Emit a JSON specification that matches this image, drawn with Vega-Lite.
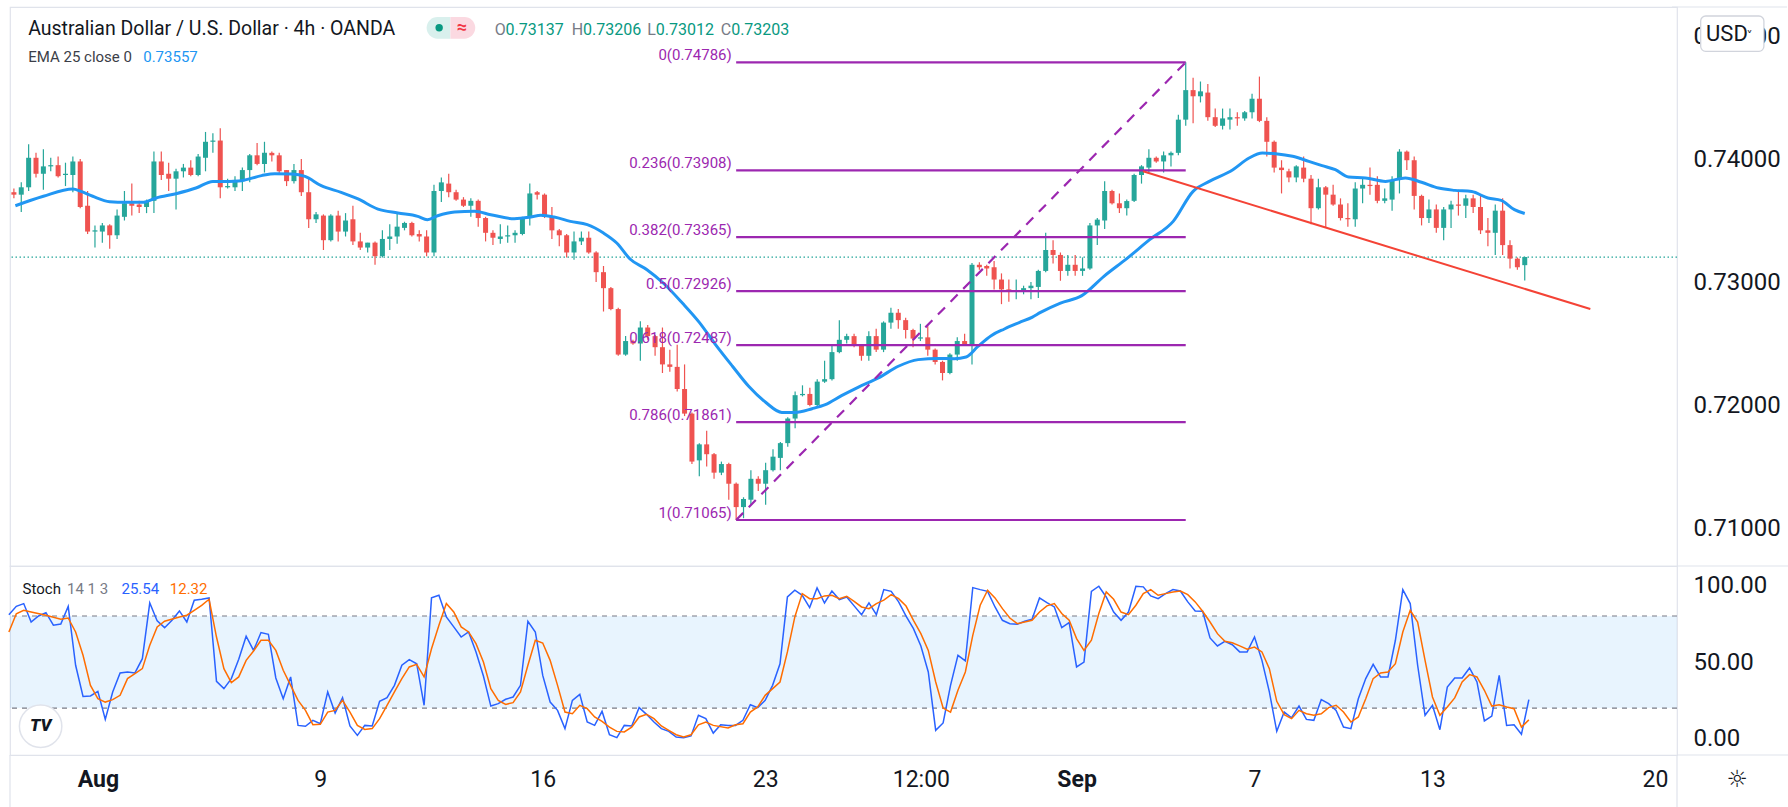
{
  "$schema": "https://vega.github.io/schema/vega-lite/v6.json",
  "description": "AUD/USD 4h candles with EMA 25, Fibonacci retracement and Stochastic 14 1 3",
  "background": "white",
  "padding": {"left": 5, "top": 5, "right": 0, "bottom": 0},
  "spacing": 0,
  "bounds": "flush",
  "config": {"view": {"stroke": "#e0e3eb", "strokeWidth": 1.2}, "font": "Roboto"},
  "resolve": {"scale": {"x": "independent", "y": "independent"}},
  "datasets": {
    "candles": [
      {"k":-1,"o":0.7373,"h":0.7376,"l":0.7368,"c":0.7371},
      {"k":0,"o":0.7371,"h":0.7381,"l":0.7357,"c":0.7377},
      {"k":1,"o":0.7377,"h":0.7412,"l":0.7374,"c":0.7401},
      {"k":2,"o":0.7401,"h":0.7405,"l":0.7385,"c":0.7388},
      {"k":3,"o":0.7388,"h":0.7408,"l":0.7375,"c":0.7394},
      {"k":4,"o":0.7394,"h":0.7401,"l":0.739,"c":0.7395},
      {"k":5,"o":0.7395,"h":0.7402,"l":0.7385,"c":0.7386},
      {"k":6,"o":0.7387,"h":0.7397,"l":0.7378,"c":0.7388},
      {"k":7,"o":0.7387,"h":0.7402,"l":0.7373,"c":0.7398},
      {"k":8,"o":0.7398,"h":0.74,"l":0.736,"c":0.7361},
      {"k":9,"o":0.7362,"h":0.7374,"l":0.7339,"c":0.7341},
      {"k":10,"o":0.7341,"h":0.7346,"l":0.7328,"c":0.7342},
      {"k":11,"o":0.7341,"h":0.7348,"l":0.7332,"c":0.7346},
      {"k":12,"o":0.7346,"h":0.7347,"l":0.7327,"c":0.7338},
      {"k":13,"o":0.7338,"h":0.7359,"l":0.7335,"c":0.7354},
      {"k":14,"o":0.7353,"h":0.7374,"l":0.735,"c":0.7364},
      {"k":15,"o":0.7364,"h":0.738,"l":0.7354,"c":0.7362},
      {"k":16,"o":0.7363,"h":0.7366,"l":0.7356,"c":0.7361},
      {"k":17,"o":0.7361,"h":0.7367,"l":0.7356,"c":0.7366},
      {"k":18,"o":0.7366,"h":0.7406,"l":0.7356,"c":0.7398},
      {"k":19,"o":0.7398,"h":0.7406,"l":0.7383,"c":0.7387},
      {"k":20,"o":0.7388,"h":0.7397,"l":0.7374,"c":0.7384},
      {"k":21,"o":0.7384,"h":0.7392,"l":0.7359,"c":0.739},
      {"k":22,"o":0.739,"h":0.7396,"l":0.7385,"c":0.7393},
      {"k":23,"o":0.7393,"h":0.7399,"l":0.7386,"c":0.7387},
      {"k":24,"o":0.7387,"h":0.7404,"l":0.7386,"c":0.7402},
      {"k":25,"o":0.7401,"h":0.7422,"l":0.739,"c":0.7414},
      {"k":26,"o":0.7414,"h":0.7421,"l":0.7405,"c":0.7415},
      {"k":27,"o":0.7415,"h":0.7425,"l":0.7368,"c":0.7377},
      {"k":28,"o":0.7377,"h":0.7384,"l":0.7376,"c":0.7378},
      {"k":29,"o":0.7377,"h":0.7386,"l":0.7374,"c":0.7383},
      {"k":30,"o":0.7382,"h":0.7393,"l":0.7374,"c":0.7391},
      {"k":31,"o":0.7391,"h":0.7404,"l":0.7381,"c":0.7403},
      {"k":32,"o":0.7403,"h":0.7413,"l":0.7395,"c":0.7396},
      {"k":33,"o":0.7396,"h":0.7414,"l":0.7389,"c":0.7405},
      {"k":34,"o":0.7405,"h":0.7406,"l":0.7398,"c":0.7403},
      {"k":35,"o":0.7403,"h":0.7405,"l":0.7388,"c":0.739},
      {"k":36,"o":0.7391,"h":0.7391,"l":0.7378,"c":0.7382},
      {"k":37,"o":0.7382,"h":0.7396,"l":0.738,"c":0.7391},
      {"k":38,"o":0.7391,"h":0.74,"l":0.737,"c":0.7373},
      {"k":39,"o":0.7373,"h":0.7385,"l":0.7344,"c":0.7351},
      {"k":40,"o":0.7351,"h":0.7357,"l":0.7348,"c":0.7355},
      {"k":41,"o":0.7354,"h":0.7355,"l":0.7326,"c":0.7334},
      {"k":42,"o":0.7334,"h":0.7355,"l":0.7333,"c":0.7354},
      {"k":43,"o":0.7354,"h":0.7358,"l":0.7333,"c":0.7341},
      {"k":44,"o":0.7341,"h":0.7356,"l":0.7337,"c":0.735},
      {"k":45,"o":0.7351,"h":0.7362,"l":0.733,"c":0.7333},
      {"k":46,"o":0.7333,"h":0.734,"l":0.7326,"c":0.7328},
      {"k":47,"o":0.7328,"h":0.7332,"l":0.7324,"c":0.7332},
      {"k":48,"o":0.7332,"h":0.7333,"l":0.7314,"c":0.7321},
      {"k":49,"o":0.7321,"h":0.7342,"l":0.732,"c":0.7335},
      {"k":50,"o":0.7335,"h":0.7347,"l":0.7326,"c":0.7337},
      {"k":51,"o":0.7337,"h":0.7356,"l":0.7331,"c":0.7345},
      {"k":52,"o":0.7344,"h":0.7349,"l":0.7342,"c":0.7348},
      {"k":53,"o":0.7348,"h":0.7349,"l":0.7337,"c":0.7338},
      {"k":54,"o":0.7339,"h":0.7342,"l":0.7333,"c":0.7337},
      {"k":55,"o":0.7337,"h":0.7342,"l":0.7321,"c":0.7324},
      {"k":56,"o":0.7324,"h":0.7379,"l":0.7321,"c":0.7374},
      {"k":57,"o":0.7374,"h":0.7385,"l":0.7365,"c":0.7381},
      {"k":58,"o":0.738,"h":0.7388,"l":0.7369,"c":0.7373},
      {"k":59,"o":0.7373,"h":0.7375,"l":0.7366,"c":0.7367},
      {"k":60,"o":0.7367,"h":0.7369,"l":0.7361,"c":0.7362},
      {"k":61,"o":0.7362,"h":0.7368,"l":0.7353,"c":0.7366},
      {"k":62,"o":0.7366,"h":0.7367,"l":0.7345,"c":0.7352},
      {"k":63,"o":0.7352,"h":0.7353,"l":0.7333,"c":0.734},
      {"k":64,"o":0.734,"h":0.7342,"l":0.733,"c":0.7336},
      {"k":65,"o":0.7335,"h":0.7347,"l":0.7331,"c":0.7337},
      {"k":66,"o":0.7337,"h":0.7346,"l":0.7332,"c":0.7338},
      {"k":67,"o":0.7338,"h":0.7342,"l":0.7332,"c":0.734},
      {"k":68,"o":0.7339,"h":0.7353,"l":0.7338,"c":0.7352},
      {"k":69,"o":0.7352,"h":0.738,"l":0.7346,"c":0.7372},
      {"k":70,"o":0.7373,"h":0.7374,"l":0.7367,"c":0.7371},
      {"k":71,"o":0.7371,"h":0.7372,"l":0.7352,"c":0.7353},
      {"k":72,"o":0.7353,"h":0.7361,"l":0.7335,"c":0.7342},
      {"k":73,"o":0.7342,"h":0.7343,"l":0.7329,"c":0.7338},
      {"k":74,"o":0.7338,"h":0.7339,"l":0.732,"c":0.7324},
      {"k":75,"o":0.7324,"h":0.7341,"l":0.7318,"c":0.7333},
      {"k":76,"o":0.7333,"h":0.7341,"l":0.733,"c":0.7336},
      {"k":77,"o":0.7336,"h":0.7341,"l":0.7323,"c":0.7324},
      {"k":78,"o":0.7324,"h":0.7325,"l":0.73,"c":0.7308},
      {"k":79,"o":0.7308,"h":0.7313,"l":0.7276,"c":0.7295},
      {"k":80,"o":0.7295,"h":0.7296,"l":0.7277,"c":0.7278},
      {"k":81,"o":0.7278,"h":0.7279,"l":0.724,"c":0.7241},
      {"k":82,"o":0.7241,"h":0.7256,"l":0.724,"c":0.7252},
      {"k":83,"o":0.7252,"h":0.7253,"l":0.7249,"c":0.725},
      {"k":84,"o":0.725,"h":0.7268,"l":0.7236,"c":0.7263},
      {"k":85,"o":0.7263,"h":0.7265,"l":0.7253,"c":0.7256},
      {"k":86,"o":0.7256,"h":0.7257,"l":0.724,"c":0.7247},
      {"k":87,"o":0.7247,"h":0.7263,"l":0.7226,"c":0.7233},
      {"k":88,"o":0.7233,"h":0.7245,"l":0.7227,"c":0.7231},
      {"k":89,"o":0.7231,"h":0.7249,"l":0.7211,"c":0.7213},
      {"k":90,"o":0.7213,"h":0.7233,"l":0.7191,"c":0.7193},
      {"k":91,"o":0.7193,"h":0.7194,"l":0.7152,"c":0.7154},
      {"k":92,"o":0.7155,"h":0.7169,"l":0.7142,"c":0.7168},
      {"k":93,"o":0.7168,"h":0.7179,"l":0.715,"c":0.716},
      {"k":94,"o":0.716,"h":0.7161,"l":0.714,"c":0.7145},
      {"k":95,"o":0.7145,"h":0.7154,"l":0.7143,"c":0.7152},
      {"k":96,"o":0.7152,"h":0.7153,"l":0.7123,"c":0.7136},
      {"k":97,"o":0.7136,"h":0.7137,"l":0.71065,"c":0.7117},
      {"k":98,"o":0.7117,"h":0.7125,"l":0.7108,"c":0.71236},
      {"k":99,"o":0.7123,"h":0.7147,"l":0.7119,"c":0.714},
      {"k":100,"o":0.714,"h":0.7142,"l":0.713,"c":0.7136},
      {"k":101,"o":0.7136,"h":0.7153,"l":0.7119,"c":0.7147},
      {"k":102,"o":0.7147,"h":0.7164,"l":0.7146,"c":0.7158},
      {"k":103,"o":0.7157,"h":0.717,"l":0.7147,"c":0.7169},
      {"k":104,"o":0.7169,"h":0.719,"l":0.7166,"c":0.7189},
      {"k":105,"o":0.7189,"h":0.7211,"l":0.7181,"c":0.7208},
      {"k":106,"o":0.7208,"h":0.7216,"l":0.7207,"c":0.7209},
      {"k":107,"o":0.7209,"h":0.7214,"l":0.7199,"c":0.72},
      {"k":108,"o":0.72,"h":0.7221,"l":0.7199,"c":0.7219},
      {"k":109,"o":0.7219,"h":0.7236,"l":0.7218,"c":0.7221},
      {"k":110,"o":0.7221,"h":0.7248,"l":0.722,"c":0.7243},
      {"k":111,"o":0.7243,"h":0.7269,"l":0.7242,"c":0.7253},
      {"k":112,"o":0.7253,"h":0.7258,"l":0.725,"c":0.7256},
      {"k":113,"o":0.7256,"h":0.7258,"l":0.7247,"c":0.7248},
      {"k":114,"o":0.7248,"h":0.7249,"l":0.7236,"c":0.724},
      {"k":115,"o":0.724,"h":0.726,"l":0.7236,"c":0.7256},
      {"k":116,"o":0.7256,"h":0.7262,"l":0.7243,"c":0.7245},
      {"k":117,"o":0.7245,"h":0.7268,"l":0.7243,"c":0.7267},
      {"k":118,"o":0.7267,"h":0.7279,"l":0.7262,"c":0.7275},
      {"k":119,"o":0.7275,"h":0.7278,"l":0.7262,"c":0.7269},
      {"k":120,"o":0.7269,"h":0.7271,"l":0.7254,"c":0.7261},
      {"k":121,"o":0.7261,"h":0.7262,"l":0.7247,"c":0.7254},
      {"k":122,"o":0.7254,"h":0.7266,"l":0.7252,"c":0.7255},
      {"k":123,"o":0.7255,"h":0.7264,"l":0.724,"c":0.7245},
      {"k":124,"o":0.7245,"h":0.7246,"l":0.7233,"c":0.7235},
      {"k":125,"o":0.7235,"h":0.7236,"l":0.722,"c":0.7226},
      {"k":126,"o":0.7226,"h":0.7242,"l":0.7225,"c":0.7241},
      {"k":127,"o":0.7241,"h":0.7255,"l":0.7236,"c":0.7252},
      {"k":128,"o":0.7252,"h":0.7258,"l":0.7248,"c":0.7249},
      {"k":129,"o":0.7249,"h":0.73155,"l":0.7233,"c":0.7314},
      {"k":130,"o":0.7314,"h":0.7316,"l":0.731,"c":0.7312},
      {"k":131,"o":0.7313,"h":0.7314,"l":0.7305,"c":0.7311},
      {"k":132,"o":0.7312,"h":0.7317,"l":0.7294,"c":0.7302},
      {"k":133,"o":0.7302,"h":0.7307,"l":0.7282,"c":0.7294},
      {"k":134,"o":0.7294,"h":0.7302,"l":0.7284,"c":0.7292},
      {"k":135,"o":0.7292,"h":0.7302,"l":0.7286,"c":0.7293},
      {"k":136,"o":0.7292,"h":0.7297,"l":0.729,"c":0.7295},
      {"k":137,"o":0.7295,"h":0.73,"l":0.7286,"c":0.7297},
      {"k":138,"o":0.7296,"h":0.731,"l":0.7287,"c":0.7309},
      {"k":139,"o":0.7309,"h":0.734,"l":0.7308,"c":0.7326},
      {"k":140,"o":0.7326,"h":0.7334,"l":0.7315,"c":0.7322},
      {"k":141,"o":0.7322,"h":0.7324,"l":0.7301,"c":0.7309},
      {"k":142,"o":0.7309,"h":0.7322,"l":0.7305,"c":0.7314},
      {"k":143,"o":0.7314,"h":0.7322,"l":0.7305,"c":0.7309},
      {"k":144,"o":0.7309,"h":0.732,"l":0.7305,"c":0.7311},
      {"k":145,"o":0.7311,"h":0.7348,"l":0.731,"c":0.7346},
      {"k":146,"o":0.7346,"h":0.7352,"l":0.733,"c":0.73507},
      {"k":147,"o":0.735,"h":0.7382,"l":0.7343,"c":0.7374},
      {"k":148,"o":0.7374,"h":0.7375,"l":0.7363,"c":0.7364},
      {"k":149,"o":0.7364,"h":0.7372,"l":0.7356,"c":0.736},
      {"k":150,"o":0.736,"h":0.7367,"l":0.7354,"c":0.73658},
      {"k":151,"o":0.7366,"h":0.7388,"l":0.7365,"c":0.7387},
      {"k":152,"o":0.7387,"h":0.7395,"l":0.738,"c":0.7394},
      {"k":153,"o":0.7393,"h":0.7408,"l":0.7389,"c":0.7401},
      {"k":154,"o":0.7401,"h":0.7402,"l":0.7397,"c":0.7398},
      {"k":155,"o":0.7398,"h":0.7406,"l":0.7389,"c":0.7403},
      {"k":156,"o":0.7403,"h":0.7406,"l":0.7394,"c":0.7405},
      {"k":157,"o":0.7405,"h":0.7436,"l":0.7403,"c":0.7432},
      {"k":158,"o":0.7432,"h":0.74786,"l":0.7427,"c":0.7456},
      {"k":159,"o":0.7456,"h":0.7466,"l":0.7429,"c":0.7451},
      {"k":160,"o":0.7451,"h":0.7463,"l":0.7446,"c":0.7455},
      {"k":161,"o":0.7454,"h":0.7461,"l":0.7431,"c":0.7434},
      {"k":162,"o":0.7434,"h":0.7441,"l":0.7426,"c":0.7427},
      {"k":163,"o":0.7427,"h":0.7441,"l":0.7424,"c":0.7433},
      {"k":164,"o":0.7432,"h":0.7441,"l":0.7424,"c":0.7434},
      {"k":165,"o":0.7434,"h":0.7438,"l":0.7427,"c":0.7433},
      {"k":166,"o":0.7433,"h":0.7439,"l":0.7431,"c":0.7438},
      {"k":167,"o":0.7438,"h":0.7453,"l":0.7433,"c":0.7449},
      {"k":168,"o":0.7449,"h":0.7467,"l":0.743,"c":0.7431},
      {"k":169,"o":0.7431,"h":0.7434,"l":0.7402,"c":0.7414},
      {"k":170,"o":0.7414,"h":0.7415,"l":0.7389,"c":0.7393},
      {"k":171,"o":0.7393,"h":0.7399,"l":0.7372,"c":0.7391},
      {"k":172,"o":0.739,"h":0.7392,"l":0.7381,"c":0.7385},
      {"k":173,"o":0.7385,"h":0.7395,"l":0.7381,"c":0.7394},
      {"k":174,"o":0.7393,"h":0.7402,"l":0.7381,"c":0.7384},
      {"k":175,"o":0.7384,"h":0.7387,"l":0.7347,"c":0.736},
      {"k":176,"o":0.736,"h":0.7384,"l":0.7359,"c":0.7377},
      {"k":177,"o":0.7377,"h":0.7378,"l":0.7344,"c":0.7371},
      {"k":178,"o":0.7371,"h":0.7379,"l":0.7362,"c":0.7363},
      {"k":179,"o":0.7363,"h":0.7368,"l":0.735,"c":0.7352},
      {"k":180,"o":0.7352,"h":0.7364,"l":0.7345,"c":0.7351},
      {"k":181,"o":0.7351,"h":0.7381,"l":0.7345,"c":0.7376},
      {"k":182,"o":0.7376,"h":0.7385,"l":0.7364,"c":0.7379},
      {"k":183,"o":0.7379,"h":0.7393,"l":0.7371,"c":0.7378},
      {"k":184,"o":0.7379,"h":0.7386,"l":0.7364,"c":0.7366},
      {"k":185,"o":0.7366,"h":0.7376,"l":0.7364,"c":0.7368},
      {"k":186,"o":0.7367,"h":0.7386,"l":0.7358,"c":0.7383},
      {"k":187,"o":0.7383,"h":0.7408,"l":0.7372,"c":0.7406},
      {"k":188,"o":0.7406,"h":0.7407,"l":0.7391,"c":0.7399},
      {"k":189,"o":0.7399,"h":0.7402,"l":0.7359,"c":0.737},
      {"k":190,"o":0.737,"h":0.7371,"l":0.7346,"c":0.7352},
      {"k":191,"o":0.7352,"h":0.7367,"l":0.7348,"c":0.7359},
      {"k":192,"o":0.7359,"h":0.7363,"l":0.734,"c":0.7344},
      {"k":193,"o":0.7344,"h":0.7361,"l":0.7334,"c":0.7359},
      {"k":194,"o":0.7359,"h":0.7366,"l":0.7344,"c":0.7363},
      {"k":195,"o":0.7363,"h":0.7375,"l":0.7354,"c":0.7362},
      {"k":196,"o":0.7362,"h":0.7371,"l":0.7352,"c":0.7368},
      {"k":197,"o":0.7368,"h":0.7371,"l":0.7356,"c":0.7361},
      {"k":198,"o":0.7361,"h":0.7371,"l":0.7339,"c":0.7342},
      {"k":199,"o":0.7342,"h":0.7352,"l":0.7329,"c":0.734},
      {"k":200,"o":0.734,"h":0.7363,"l":0.7322,"c":0.7358},
      {"k":201,"o":0.7358,"h":0.7368,"l":0.7322,"c":0.733},
      {"k":202,"o":0.733,"h":0.7334,"l":0.7311,"c":0.7319},
      {"k":203,"o":0.7319,"h":0.732,"l":0.731,"c":0.7312},
      {"k":204,"o":0.73137,"h":0.73206,"l":0.73012,"c":0.73203}
    ],
    "ema": [
      {"k":-0.8,"v":0.7362},{"k":3,"v":0.73697},{"k":7,"v":0.73756},{"k":8.1,"v":0.73737},{"k":9.7,"v":0.73697},
      {"k":12,"v":0.73653},{"k":14.2,"v":0.73648},{"k":16.5,"v":0.73648},{"k":18.3,"v":0.73683},{"k":21,"v":0.73718},
      {"k":23.7,"v":0.73764},{"k":26,"v":0.73818},{"k":28.1,"v":0.73818},{"k":29.9,"v":0.73824},{"k":32.6,"v":0.73865},
      {"k":34.4,"v":0.73881},{"k":36.7,"v":0.73878},{"k":38.5,"v":0.73859},{"k":40.7,"v":0.73783},{"k":43.4,"v":0.73729},
      {"k":45.7,"v":0.73675},{"k":48.4,"v":0.73593},{"k":51.1,"v":0.73561},{"k":53.8,"v":0.73534},{"k":55.1,"v":0.73507},
      {"k":56.5,"v":0.73539},{"k":58.8,"v":0.73569},{"k":61.5,"v":0.73575},{"k":63.7,"v":0.73547},{"k":66.9,"v":0.73515},
      {"k":69.1,"v":0.73528},{"k":70.5,"v":0.73542},{"k":72.3,"v":0.73528},{"k":74.5,"v":0.73493},{"k":76.8,"v":0.73466},
      {"k":79,"v":0.73398},{"k":80.8,"v":0.73317},{"k":82.6,"v":0.73187},{"k":84.9,"v":0.731},{"k":87.1,"v":0.72992},
      {"k":89.7,"v":0.72829},{"k":92,"v":0.72672},{"k":94.2,"v":0.72491},{"k":96.5,"v":0.72315},{"k":98.7,"v":0.72152},
      {"k":101,"v":0.72022},{"k":103.2,"v":0.7194},{"k":105,"v":0.7194},{"k":107.3,"v":0.7197},{"k":109.1,"v":0.72003},
      {"k":111.3,"v":0.72076},{"k":113.6,"v":0.72146},{"k":116.3,"v":0.7222},{"k":119,"v":0.72315},{"k":121.7,"v":0.72369},
      {"k":124.4,"v":0.72379},{"k":126.6,"v":0.72377},{"k":128.2,"v":0.7239},{"k":129.8,"v":0.72476},{"k":131.6,"v":0.72564},
      {"k":133.4,"v":0.72618},{"k":135.4,"v":0.7267},{"k":137.2,"v":0.72715},{"k":138.3,"v":0.72753},{"k":141,"v":0.72829},
      {"k":143.9,"v":0.72889},{"k":146.9,"v":0.73046},{"k":150,"v":0.7319},{"k":153.1,"v":0.73344},{"k":156.3,"v":0.73493},
      {"k":159,"v":0.73737},{"k":161.2,"v":0.73818},{"k":164.4,"v":0.73913},{"k":166.6,"v":0.74008},{"k":168.4,"v":0.74049},
      {"k":170.2,"v":0.74043},{"k":172.5,"v":0.74022},{"k":174.7,"v":0.73981},{"k":176.5,"v":0.73946},{"k":178.3,"v":0.73913},
      {"k":180.1,"v":0.73854},{"k":182.4,"v":0.73846},{"k":185.1,"v":0.73818},{"k":187.8,"v":0.73846},{"k":190,"v":0.73811},
      {"k":192.3,"v":0.73764},{"k":194.5,"v":0.73745},{"k":196.8,"v":0.73735},{"k":199,"v":0.73683},{"k":200.8,"v":0.73664},
      {"k":202.6,"v":0.73588},{"k":204,"v":0.73557}
    ],
    "fib": [
      {"label":"0(0.74786)","price":0.74786},
      {"label":"0.236(0.73908)","price":0.73908},
      {"label":"0.382(0.73365)","price":0.73365},
      {"label":"0.5(0.72926)","price":0.72926},
      {"label":"0.618(0.72487)","price":0.72487},
      {"label":"0.786(0.71861)","price":0.71861},
      {"label":"1(0.71065)","price":0.71065}
    ],
    "stochK": [
      {"k":-1,"v":80.9},{"k":0,"v":86.3},{"k":1,"v":88.1},{"k":2,"v":76.1},{"k":3,"v":80},{"k":4,"v":82.2},{"k":5,"v":74},{"k":6,"v":74.8},{"k":7,"v":86.3},{"k":8,"v":47.9},
      {"k":9,"v":27.6},{"k":10,"v":27.9},{"k":11,"v":30.9},{"k":12,"v":12.6},{"k":13,"v":30.5},{"k":14,"v":42.9},{"k":15,"v":43.5},{"k":16,"v":42.9},{"k":17,"v":52.2},{"k":18,"v":88.5},
      {"k":19,"v":76.8},{"k":20,"v":72.4},{"k":21,"v":77.2},{"k":22,"v":83.3},{"k":23,"v":76.1},{"k":24,"v":90.3},{"k":25,"v":90.9},{"k":26,"v":91.8},{"k":27,"v":37.4},{"k":28,"v":32.7},
      {"k":29,"v":39.2},{"k":30,"v":51.8},{"k":31,"v":66.8},{"k":32,"v":57.6},{"k":33,"v":69.2},{"k":34,"v":68.1},{"k":35,"v":39.6},{"k":36,"v":26.1},{"k":37,"v":40.3},{"k":38,"v":8.7},
      {"k":39,"v":8.1},{"k":40,"v":12},{"k":41,"v":9.8},{"k":42,"v":30.5},{"k":43,"v":16.8},{"k":44,"v":26.8},{"k":45,"v":8.3},{"k":46,"v":2.2},{"k":47,"v":8.7},{"k":48,"v":8.3},
      {"k":49,"v":24.4},{"k":50,"v":26.8},{"k":51,"v":34.8},{"k":52,"v":47.9},{"k":53,"v":51.6},{"k":54,"v":48.9},{"k":55,"v":21.8},{"k":56,"v":91.8},{"k":57,"v":93.5},{"k":58,"v":79.4},
      {"k":59,"v":72.9},{"k":60,"v":66.3},{"k":61,"v":69.6},{"k":62,"v":56.6},{"k":63,"v":40.9},{"k":64,"v":21.3},{"k":65,"v":22.9},{"k":66,"v":25.7},{"k":67,"v":27.2},{"k":68,"v":34.8},
      {"k":69,"v":76.6},{"k":70,"v":69.6},{"k":71,"v":41.3},{"k":72,"v":23.9},{"k":73,"v":18.5},{"k":74,"v":6.6},{"k":75,"v":25},{"k":76,"v":28.9},{"k":77,"v":10.9},{"k":78,"v":8.7},
      {"k":79,"v":17.9},{"k":80,"v":2.6},{"k":81,"v":0.7},{"k":82,"v":8.7},{"k":83,"v":8.3},{"k":84,"v":20.3},{"k":85,"v":15.9},{"k":86,"v":10.9},{"k":87,"v":6.6},{"k":88,"v":4.8},
      {"k":89,"v":1.1},{"k":90,"v":0.7},{"k":91,"v":1.8},{"k":92,"v":15.3},{"k":93,"v":13.1},{"k":94,"v":3.7},{"k":95,"v":9.1},{"k":96,"v":8.7},{"k":97,"v":8.7},{"k":98,"v":12},
      {"k":99,"v":22.2},{"k":100,"v":20.3},{"k":101,"v":25},{"k":102,"v":34.8},{"k":103,"v":48.9},{"k":104,"v":92.4},{"k":105,"v":96.8},{"k":106,"v":93.5},{"k":107,"v":85.5},{"k":108,"v":98.3},
      {"k":109,"v":88.5},{"k":110,"v":96.3},{"k":111,"v":90.7},{"k":112,"v":92.4},{"k":113,"v":86.6},{"k":114,"v":80.9},{"k":115,"v":88.5},{"k":116,"v":80.9},{"k":117,"v":97.2},{"k":118,"v":96.1},
      {"k":119,"v":89.2},{"k":120,"v":80},{"k":121,"v":71.8},{"k":122,"v":60.5},{"k":123,"v":43.5},{"k":124,"v":5.5},{"k":125,"v":10.3},{"k":126,"v":34.8},{"k":127,"v":54.4},{"k":128,"v":50.7},
      {"k":129,"v":98.5},{"k":130,"v":97.2},{"k":131,"v":96.1},{"k":132,"v":85.9},{"k":133,"v":77.2},{"k":134,"v":75},{"k":135,"v":74.6},{"k":136,"v":76.6},{"k":137,"v":77.9},{"k":138,"v":91.8},
      {"k":139,"v":88.7},{"k":140,"v":85.9},{"k":141,"v":72.4},{"k":142,"v":75.7},{"k":143,"v":46.8},{"k":144,"v":50},{"k":145,"v":96.1},{"k":146,"v":99.4},{"k":147,"v":92.4},{"k":148,"v":82.6},
      {"k":149,"v":77.2},{"k":150,"v":82.6},{"k":151,"v":99.4},{"k":152,"v":99},{"k":153,"v":93.1},{"k":154,"v":91.3},{"k":155,"v":94.6},{"k":156,"v":97.2},{"k":157,"v":96.3},{"k":158,"v":89.2},
      {"k":159,"v":83.3},{"k":160,"v":83.1},{"k":161,"v":65.7},{"k":162,"v":60.5},{"k":163,"v":63.5},{"k":164,"v":61.3},{"k":165,"v":56.6},{"k":166,"v":56.6},{"k":167,"v":66.3},{"k":168,"v":51.1},
      {"k":169,"v":30.5},{"k":170,"v":4.8},{"k":171,"v":17.4},{"k":172,"v":13.7},{"k":173,"v":21.3},{"k":174,"v":12.6},{"k":175,"v":12},{"k":176,"v":25.5},{"k":177,"v":22.9},{"k":178,"v":18.5},
      {"k":179,"v":7.6},{"k":180,"v":6.6},{"k":181,"v":26.1},{"k":182,"v":39.2},{"k":183,"v":48.5},{"k":184,"v":40.3},{"k":185,"v":40.3},{"k":186,"v":64.2},{"k":187,"v":97.2},{"k":188,"v":88.1},
      {"k":189,"v":47.9},{"k":190,"v":15.3},{"k":191,"v":21.8},{"k":192,"v":5.9},{"k":193,"v":33.7},{"k":194,"v":39.6},{"k":195,"v":39.6},{"k":196,"v":46.1},{"k":197,"v":37},{"k":198,"v":11.6},
      {"k":199,"v":14.8},{"k":200,"v":41.3},{"k":201,"v":8.7},{"k":202,"v":9.1},{"k":203,"v":2.9},{"k":204,"v":25.54}
    ],
    "stochD": [
      {"k":-1,"v":69.6},{"k":0,"v":81.5},{"k":1,"v":83.7},{"k":2,"v":82.6},{"k":4,"v":80.5},{"k":6,"v":77.9},{"k":7,"v":78.7},{"k":8,"v":69.6},{"k":9,"v":54.4},{"k":10,"v":34.8},
      {"k":11,"v":26.1},{"k":12,"v":23.9},{"k":13,"v":25.5},{"k":14,"v":28.3},{"k":15,"v":39.2},{"k":16,"v":42.4},{"k":17,"v":45.7},{"k":18,"v":60.9},{"k":19,"v":72.9},{"k":20,"v":76.6},
      {"k":22,"v":79.4},{"k":23,"v":80.5},{"k":24,"v":83.7},{"k":25,"v":87},{"k":26,"v":90.9},{"k":27,"v":66.3},{"k":28,"v":45.7},{"k":29,"v":36.6},{"k":30,"v":40.3},{"k":31,"v":51.1},
      {"k":32,"v":57.2},{"k":33,"v":64.2},{"k":34,"v":64.2},{"k":35,"v":57.6},{"k":36,"v":44.6},{"k":37,"v":34.8},{"k":38,"v":25},{"k":39,"v":18.5},{"k":40,"v":9.2},{"k":41,"v":9.4},
      {"k":42,"v":17.4},{"k":43,"v":18.5},{"k":44,"v":25},{"k":45,"v":17.4},{"k":46,"v":8.7},{"k":47,"v":6.1},{"k":48,"v":6.6},{"k":49,"v":13.1},{"k":50,"v":21.8},{"k":51,"v":30.5},
      {"k":52,"v":39.2},{"k":53,"v":46.8},{"k":54,"v":48.5},{"k":55,"v":40.3},{"k":56,"v":58.7},{"k":57,"v":74},{"k":58,"v":88.1},{"k":59,"v":82.6},{"k":60,"v":72.9},{"k":61,"v":69.6},
      {"k":62,"v":62},{"k":63,"v":50},{"k":64,"v":32.6},{"k":65,"v":25},{"k":66,"v":22.4},{"k":67,"v":23.5},{"k":68,"v":30.5},{"k":69,"v":47.9},{"k":70,"v":64.2},{"k":71,"v":62.4},
      {"k":72,"v":51.1},{"k":73,"v":34.8},{"k":74,"v":17.4},{"k":75,"v":16.3},{"k":76,"v":21.8},{"k":77,"v":19.6},{"k":78,"v":14.2},{"k":79,"v":11.3},{"k":80,"v":7.6},{"k":81,"v":4.8},
      {"k":82,"v":4.4},{"k":83,"v":7.6},{"k":84,"v":14.2},{"k":85,"v":15.9},{"k":86,"v":13.1},{"k":87,"v":8.3},{"k":88,"v":5.5},{"k":89,"v":2.6},{"k":90,"v":1.1},{"k":91,"v":2.6},
      {"k":92,"v":9.1},{"k":93,"v":10.9},{"k":94,"v":8.7},{"k":96,"v":7},{"k":97,"v":9.1},{"k":98,"v":9.8},{"k":99,"v":17.4},{"k":100,"v":20.7},{"k":101,"v":28.3},{"k":103,"v":37},
      {"k":104,"v":56.6},{"k":105,"v":79.4},{"k":106,"v":94.6},{"k":107,"v":91.3},{"k":108,"v":91.3},{"k":109,"v":93.1},{"k":110,"v":93.5},{"k":111,"v":91.3},{"k":112,"v":92.9},{"k":113,"v":89.6},
      {"k":114,"v":85.9},{"k":115,"v":84.8},{"k":116,"v":88.1},{"k":117,"v":90.3},{"k":118,"v":94},{"k":119,"v":91.3},{"k":120,"v":86.5},{"k":121,"v":77.2},{"k":122,"v":68.5},{"k":123,"v":57.6},
      {"k":124,"v":37},{"k":125,"v":20},{"k":126,"v":17.4},{"k":127,"v":31.6},{"k":128,"v":43.5},{"k":129,"v":67.4},{"k":130,"v":87},{"k":131,"v":96.8},{"k":132,"v":91.8},{"k":133,"v":84.8},
      {"k":134,"v":78.7},{"k":135,"v":75},{"k":136,"v":76.1},{"k":137,"v":77.2},{"k":138,"v":82.6},{"k":139,"v":86.6},{"k":140,"v":88.1},{"k":141,"v":81.6},{"k":142,"v":77.2},{"k":143,"v":65.3},
      {"k":144,"v":57.6},{"k":145,"v":64.2},{"k":146,"v":81.6},{"k":147,"v":95.7},{"k":148,"v":90.9},{"k":149,"v":82.6},{"k":150,"v":80.9},{"k":151,"v":87},{"k":152,"v":94.6},{"k":153,"v":97.2},
      {"k":154,"v":93.5},{"k":155,"v":94.6},{"k":156,"v":95.7},{"k":157,"v":96.3},{"k":158,"v":93.9},{"k":159,"v":89.2},{"k":160,"v":83.1},{"k":161,"v":76.1},{"k":162,"v":68.5},{"k":163,"v":63.5},
      {"k":164,"v":62.6},{"k":165,"v":60.5},{"k":166,"v":58.3},{"k":167,"v":59.8},{"k":168,"v":56.6},{"k":169,"v":45.7},{"k":170,"v":24.4},{"k":171,"v":15.7},{"k":172,"v":13.1},{"k":173,"v":18.5},
      {"k":174,"v":16.3},{"k":175,"v":15.3},{"k":176,"v":16.3},{"k":177,"v":20.3},{"k":178,"v":21.8},{"k":179,"v":17.4},{"k":180,"v":10.9},{"k":181,"v":14.2},{"k":182,"v":26.1},{"k":183,"v":39.2},
      {"k":184,"v":42.9},{"k":185,"v":43.5},{"k":186,"v":48.9},{"k":187,"v":69.6},{"k":188,"v":83.7},{"k":189,"v":76.1},{"k":190,"v":51.1},{"k":191,"v":27.2},{"k":192,"v":15.3},{"k":193,"v":20.7},
      {"k":194,"v":26.6},{"k":195,"v":37},{"k":196,"v":41.8},{"k":197,"v":40.3},{"k":198,"v":31.6},{"k":199,"v":21.3},{"k":200,"v":22.2},{"k":201,"v":20.7},{"k":202,"v":19.6},{"k":203,"v":7.6},
      {"k":204,"v":12.32}
    ]
  },
  "vconcat": [
    {
      "width": 1667,
      "height": 559,
      "resolve": {"axis": {"x": "independent", "y": "independent"}},
      "layer": [
        {
          "data": {"values": [{}]},
          "mark": {"type": "rule", "color": "#26a69a", "strokeDash": [1.5, 2.5], "strokeWidth": 1.2},
          "encoding": {
            "y": {"datum": 0.73203, "type": "quantitative", "scale": {"domain": [0.706911, 0.752358], "nice": false, "zero": false}, "axis": null}
          }
        },
        {
          "data": {"name": "candles"},
          "mark": {"type": "rule", "strokeWidth": 1.2},
          "encoding": {
            "x": {"field": "k", "type": "quantitative", "scale": {"domain": [-0.85, 223.98], "nice": false, "zero": false}, "axis": null},
            "y": {
              "field": "l", "type": "quantitative",
              "scale": {"domain": [0.706911, 0.752358], "nice": false, "zero": false},
              "axis": {
                "orient": "right", "values": [0.71, 0.72, 0.73, 0.74, 0.75], "format": ".5f",
                "ticks": false, "domain": false, "grid": false, "title": null,
                "labelFontSize": 24, "labelColor": "#131722", "labelFont": "Roboto",
                "labelPadding": 16, "labelAlign": "left", "labelBaseline": "middle",
                "labelFlush": false, "labelOverlap": false
              }
            },
            "y2": {"field": "h"},
            "color": {"condition": {"test": "datum.c >= datum.o", "value": "#26a69a"}, "value": "#ef5350"}
          }
        },
        {
          "data": {"name": "candles"},
          "mark": {"type": "bar", "size": 5},
          "encoding": {
            "x": {"field": "k", "type": "quantitative", "scale": {"domain": [-0.85, 223.98], "nice": false, "zero": false}, "axis": null},
            "y": {"field": "o", "type": "quantitative", "scale": {"domain": [0.706911, 0.752358], "nice": false, "zero": false}, "axis": null},
            "y2": {"field": "c"},
            "color": {"condition": {"test": "datum.c >= datum.o", "value": "#26a69a"}, "value": "#ef5350"}
          }
        },
        {
          "data": {"name": "ema"},
          "mark": {"type": "line", "color": "#2196f3", "strokeWidth": 3, "interpolate": "monotone"},
          "encoding": {
            "x": {"field": "k", "type": "quantitative", "scale": {"domain": [-0.85, 223.98], "nice": false, "zero": false}, "axis": null},
            "y": {"field": "v", "type": "quantitative", "scale": {"domain": [0.706911, 0.752358], "nice": false, "zero": false}, "axis": null}
          }
        },
        {
          "data": {"name": "fib"},
          "mark": {"type": "rule", "color": "#9c27b0", "strokeWidth": 2.2},
          "encoding": {
            "x": {"datum": 97, "type": "quantitative", "scale": {"domain": [-0.85, 223.98], "nice": false, "zero": false}, "axis": null},
            "x2": {"datum": 158},
            "y": {"field": "price", "type": "quantitative", "scale": {"domain": [0.706911, 0.752358], "nice": false, "zero": false}, "axis": null}
          }
        },
        {
          "data": {"name": "fib"},
          "mark": {"type": "text", "color": "#9c27b0", "fontSize": 15, "align": "right", "baseline": "middle", "dy": -7},
          "encoding": {
            "x": {"datum": 96.4, "type": "quantitative", "scale": {"domain": [-0.85, 223.98], "nice": false, "zero": false}, "axis": null},
            "y": {"field": "price", "type": "quantitative", "scale": {"domain": [0.706911, 0.752358], "nice": false, "zero": false}, "axis": null},
            "text": {"field": "label"}
          }
        },
        {
          "data": {"values": [{}]},
          "mark": {"type": "rule", "color": "#9c27b0", "strokeWidth": 2.2, "strokeDash": [10, 8]},
          "encoding": {
            "x": {"datum": 97, "type": "quantitative", "scale": {"domain": [-0.85, 223.98], "nice": false, "zero": false}, "axis": null},
            "x2": {"datum": 158},
            "y": {"datum": 0.71065, "type": "quantitative", "scale": {"domain": [0.706911, 0.752358], "nice": false, "zero": false}, "axis": null},
            "y2": {"datum": 0.74786}
          }
        },
        {
          "data": {"values": [{}]},
          "mark": {"type": "rule", "color": "#f44336", "strokeWidth": 2},
          "encoding": {
            "x": {"datum": 152.2, "type": "quantitative", "scale": {"domain": [-0.85, 223.98], "nice": false, "zero": false}, "axis": null},
            "x2": {"datum": 212.9},
            "y": {"datum": 0.739, "type": "quantitative", "scale": {"domain": [0.706911, 0.752358], "nice": false, "zero": false}, "axis": null},
            "y2": {"datum": 0.7278}
          }
        },
        {
          "data": {"values": [{}]},
          "mark": {"type": "text", "color": "#131722", "fontSize": 19.5, "align": "left", "baseline": "middle"},
          "encoding": {
            "x": {"datum": 0.94, "type": "quantitative", "scale": {"domain": [-0.85, 223.98], "nice": false, "zero": false}, "axis": null},
            "y": {"datum": 0.75061, "type": "quantitative", "scale": {"domain": [0.706911, 0.752358], "nice": false, "zero": false}, "axis": null},
            "text": {"value": "Australian Dollar / U.S. Dollar · 4h · OANDA"}
          }
        },
        {
          "data": {"values": [{}]},
          "mark": {"type": "rect", "color": "#d9f0ed", "cornerRadiusTopLeft": 11, "cornerRadiusBottomLeft": 11},
          "encoding": {
            "x": {"datum": 55.0, "type": "quantitative", "scale": {"domain": [-0.85, 223.98], "nice": false, "zero": false}, "axis": null},
            "x2": {"datum": 58.23},
            "y": {"datum": 0.751545, "type": "quantitative", "scale": {"domain": [0.706911, 0.752358], "nice": false, "zero": false}, "axis": null},
            "y2": {"datum": 0.74978}
          }
        },
        {
          "data": {"values": [{}]},
          "mark": {"type": "rect", "color": "#fbd9e1", "cornerRadiusTopRight": 11, "cornerRadiusBottomRight": 11},
          "encoding": {
            "x": {"datum": 58.23, "type": "quantitative", "scale": {"domain": [-0.85, 223.98], "nice": false, "zero": false}, "axis": null},
            "x2": {"datum": 61.6},
            "y": {"datum": 0.751545, "type": "quantitative", "scale": {"domain": [0.706911, 0.752358], "nice": false, "zero": false}, "axis": null},
            "y2": {"datum": 0.74978}
          }
        },
        {
          "data": {"values": [{}]},
          "mark": {"type": "point", "filled": true, "shape": "circle", "size": 55, "color": "#089981", "opacity": 1},
          "encoding": {
            "x": {"datum": 56.7, "type": "quantitative", "scale": {"domain": [-0.85, 223.98], "nice": false, "zero": false}, "axis": null},
            "y": {"datum": 0.750675, "type": "quantitative", "scale": {"domain": [0.706911, 0.752358], "nice": false, "zero": false}, "axis": null}
          }
        },
        {
          "data": {"values": [{}]},
          "mark": {"type": "text", "color": "#f23645", "fontSize": 18, "fontWeight": "bold", "align": "center", "baseline": "middle"},
          "encoding": {
            "x": {"datum": 59.8, "type": "quantitative", "scale": {"domain": [-0.85, 223.98], "nice": false, "zero": false}, "axis": null},
            "y": {"datum": 0.750675, "type": "quantitative", "scale": {"domain": [0.706911, 0.752358], "nice": false, "zero": false}, "axis": null},
            "text": {"value": "≈"}
          }
        },
        {
          "data": {"values": [{"t": "O", "x": 64.23}, {"t": "H", "x": 74.68}, {"t": "L", "x": 84.94}, {"t": "C", "x": 94.92}]},
          "mark": {"type": "text", "color": "#787b86", "fontSize": 16, "align": "left", "baseline": "middle"},
          "encoding": {
            "x": {"field": "x", "type": "quantitative", "scale": {"domain": [-0.85, 223.98], "nice": false, "zero": false}, "axis": null},
            "y": {"datum": 0.7505, "type": "quantitative", "scale": {"domain": [0.706911, 0.752358], "nice": false, "zero": false}, "axis": null},
            "text": {"field": "t"}
          }
        },
        {
          "data": {"values": [{"t": "0.73137", "x": 65.72}, {"t": "0.73206", "x": 76.22}, {"t": "0.73012", "x": 86.1}, {"t": "0.73203", "x": 96.32}]},
          "mark": {"type": "text", "color": "#089981", "fontSize": 16, "align": "left", "baseline": "middle"},
          "encoding": {
            "x": {"field": "x", "type": "quantitative", "scale": {"domain": [-0.85, 223.98], "nice": false, "zero": false}, "axis": null},
            "y": {"datum": 0.7505, "type": "quantitative", "scale": {"domain": [0.706911, 0.752358], "nice": false, "zero": false}, "axis": null},
            "text": {"field": "t"}
          }
        },
        {
          "data": {"values": [{}]},
          "mark": {"type": "text", "color": "#3b3e48", "fontSize": 15, "align": "left", "baseline": "middle"},
          "encoding": {
            "x": {"datum": 0.94, "type": "quantitative", "scale": {"domain": [-0.85, 223.98], "nice": false, "zero": false}, "axis": null},
            "y": {"datum": 0.74829, "type": "quantitative", "scale": {"domain": [0.706911, 0.752358], "nice": false, "zero": false}, "axis": null},
            "text": {"value": "EMA 25 close 0"}
          }
        },
        {
          "data": {"values": [{}]},
          "mark": {"type": "text", "color": "#2196f3", "fontSize": 15, "align": "left", "baseline": "middle"},
          "encoding": {
            "x": {"datum": 16.55, "type": "quantitative", "scale": {"domain": [-0.85, 223.98], "nice": false, "zero": false}, "axis": null},
            "y": {"datum": 0.74829, "type": "quantitative", "scale": {"domain": [0.706911, 0.752358], "nice": false, "zero": false}, "axis": null},
            "text": {"value": "0.73557"}
          }
        },
        {
          "data": {"values": [{}]},
          "mark": {"type": "rect", "fill": "white", "stroke": "#d1d4dc", "strokeWidth": 1.3, "cornerRadius": 5},
          "encoding": {
            "x": {"datum": 227.87, "type": "quantitative", "scale": {"domain": [-0.85, 223.98], "nice": false, "zero": false}, "axis": null},
            "x2": {"datum": 236.45},
            "y": {"datum": 0.751626, "type": "quantitative", "scale": {"domain": [0.706911, 0.752358], "nice": false, "zero": false}, "axis": null},
            "y2": {"datum": 0.748756}
          }
        },
        {
          "data": {"values": [{}]},
          "mark": {"type": "text", "color": "#131722", "fontSize": 22, "align": "left", "baseline": "middle"},
          "encoding": {
            "x": {"datum": 228.6, "type": "quantitative", "scale": {"domain": [-0.85, 223.98], "nice": false, "zero": false}, "axis": null},
            "y": {"datum": 0.750187, "type": "quantitative", "scale": {"domain": [0.706911, 0.752358], "nice": false, "zero": false}, "axis": null},
            "text": {"value": "USD"}
          }
        },
        {
          "data": {"values": [{}]},
          "mark": {"type": "text", "color": "#131722", "fontSize": 12, "font": "DejaVu Sans", "align": "center", "baseline": "middle", "dy": 2},
          "encoding": {
            "x": {"datum": 234.5, "type": "quantitative", "scale": {"domain": [-0.85, 223.98], "nice": false, "zero": false}, "axis": null},
            "y": {"datum": 0.750187, "type": "quantitative", "scale": {"domain": [0.706911, 0.752358], "nice": false, "zero": false}, "axis": null},
            "text": {"value": "˅"}
          }
        },
        {
          "data": {"values": [{}]},
          "mark": {"type": "rule", "color": "#e0e3eb", "strokeWidth": 1.2},
          "encoding": {
            "x": {"datum": 223.98, "type": "quantitative", "scale": {"domain": [-0.85, 223.98], "nice": false, "zero": false}, "axis": null},
            "x2": {"datum": 239.6},
            "y": {"datum": 0.752358, "type": "quantitative", "scale": {"domain": [0.706911, 0.752358], "nice": false, "zero": false}, "axis": null}
          }
        }
      ]
    },
    {
      "width": 1667,
      "height": 189,
      "resolve": {"axis": {"x": "independent", "y": "independent"}},
      "layer": [
        {
          "data": {"values": [{}]},
          "mark": {"type": "rect", "color": "#2196f3", "opacity": 0.1},
          "encoding": {
            "y": {"datum": 20, "type": "quantitative", "scale": {"domain": [-10.6, 112.6], "nice": false, "zero": false}, "axis": null},
            "y2": {"datum": 80}
          }
        },
        {
          "data": {"values": [{"lvl": 20}, {"lvl": 80}]},
          "mark": {"type": "rule", "color": "#787b86", "strokeDash": [5, 5], "strokeWidth": 1.2},
          "encoding": {
            "y": {"field": "lvl", "type": "quantitative", "scale": {"domain": [-10.6, 112.6], "nice": false, "zero": false}, "axis": null}
          }
        },
        {
          "data": {"name": "stochK"},
          "mark": {"type": "line", "color": "#2962ff", "strokeWidth": 1.5},
          "encoding": {
            "x": {
              "field": "k", "type": "quantitative",
              "scale": {"domain": [-0.85, 223.98], "nice": false, "zero": false},
              "axis": {
                "orient": "bottom", "values": [11, 41, 71, 101, 122, 143, 167, 191, 221],
                "labelExpr": "datum.value == 11 ? 'Aug' : datum.value == 41 ? '9' : datum.value == 71 ? '16' : datum.value == 101 ? '23' : datum.value == 122 ? '12:00' : datum.value == 143 ? 'Sep' : datum.value == 167 ? '7' : datum.value == 191 ? '13' : '20'",
                "labelFontWeight": {"condition": {"test": "datum.value == 11 || datum.value == 143", "value": "bold"}, "value": "normal"},
                "ticks": false, "domain": false, "grid": false, "title": null,
                "labelFontSize": 23, "labelColor": "#131722", "labelFont": "Roboto",
                "labelPadding": 13, "labelFlush": false, "labelOverlap": false
              }
            },
            "y": {
              "field": "v", "type": "quantitative",
              "scale": {"domain": [-10.6, 112.6], "nice": false, "zero": false},
              "axis": {
                "orient": "right", "values": [0, 50, 100], "format": ".2f",
                "ticks": false, "domain": false, "grid": false, "title": null,
                "labelFontSize": 24, "labelColor": "#131722", "labelFont": "Roboto",
                "labelPadding": 16, "labelAlign": "left", "labelBaseline": "middle",
                "labelFlush": false, "labelOverlap": false
              }
            }
          }
        },
        {
          "data": {"name": "stochD"},
          "mark": {"type": "line", "color": "#ff6d00", "strokeWidth": 1.5},
          "encoding": {
            "x": {"field": "k", "type": "quantitative", "scale": {"domain": [-0.85, 223.98], "nice": false, "zero": false}, "axis": null},
            "y": {"field": "v", "type": "quantitative", "scale": {"domain": [-10.6, 112.6], "nice": false, "zero": false}, "axis": null}
          }
        },
        {
          "data": {"values": [
            {"t": "Stoch", "x": 0.85, "col": "#131722"},
            {"t": "14 1 3", "x": 6.84, "col": "#787b86"},
            {"t": "25.54", "x": 14.19, "col": "#2962ff"},
            {"t": "12.32", "x": 20.7, "col": "#ff6d00"}
          ]},
          "mark": {"type": "text", "fontSize": 15, "align": "left", "baseline": "middle"},
          "encoding": {
            "x": {"field": "x", "type": "quantitative", "scale": {"domain": [-0.85, 223.98], "nice": false, "zero": false}, "axis": null},
            "y": {"datum": 97.85, "type": "quantitative", "scale": {"domain": [-10.6, 112.6], "nice": false, "zero": false}, "axis": null},
            "text": {"field": "t"},
            "color": {"field": "col", "type": "nominal", "scale": null}
          }
        },
        {
          "data": {"values": [{}]},
          "mark": {"type": "point", "shape": "circle", "filled": true, "size": 1800, "fill": "white", "stroke": "#e0e3eb", "strokeWidth": 1.5, "opacity": 1},
          "encoding": {
            "x": {"datum": 3.28, "type": "quantitative", "scale": {"domain": [-0.85, 223.98], "nice": false, "zero": false}, "axis": null},
            "y": {"datum": 8.1, "type": "quantitative", "scale": {"domain": [-10.6, 112.6], "nice": false, "zero": false}, "axis": null}
          }
        },
        {
          "data": {"values": [{}]},
          "mark": {"type": "text", "color": "#131722", "fontSize": 17, "fontWeight": 900, "align": "center", "baseline": "middle", "fontStyle": "italic"},
          "encoding": {
            "x": {"datum": 3.28, "type": "quantitative", "scale": {"domain": [-0.85, 223.98], "nice": false, "zero": false}, "axis": null},
            "y": {"datum": 8.1, "type": "quantitative", "scale": {"domain": [-10.6, 112.6], "nice": false, "zero": false}, "axis": null},
            "text": {"value": "TV"}
          }
        },
        {
          "data": {"values": [{}]},
          "mark": {"type": "text", "color": "#131722", "fontSize": 24, "font": "DejaVu Sans", "align": "center", "baseline": "middle"},
          "encoding": {
            "x": {"datum": 232.1, "type": "quantitative", "scale": {"domain": [-0.85, 223.98], "nice": false, "zero": false}, "axis": null},
            "y": {"datum": -26.9, "type": "quantitative", "scale": {"domain": [-10.6, 112.6], "nice": false, "zero": false}, "axis": null},
            "text": {"value": "☼"}
          }
        },
        {
          "data": {"values": [{"lvl": 112.6}, {"lvl": -10.6}]},
          "mark": {"type": "rule", "color": "#e0e3eb", "strokeWidth": 1.2},
          "encoding": {
            "x": {"datum": 223.98, "type": "quantitative", "scale": {"domain": [-0.85, 223.98], "nice": false, "zero": false}, "axis": null},
            "x2": {"datum": 239.6},
            "y": {"field": "lvl", "type": "quantitative", "scale": {"domain": [-10.6, 112.6], "nice": false, "zero": false}, "axis": null}
          }
        },
        {
          "data": {"values": [{"kx": -0.85}, {"kx": 223.98}]},
          "mark": {"type": "rule", "color": "#e0e3eb", "strokeWidth": 1.2},
          "encoding": {
            "x": {"field": "kx", "type": "quantitative", "scale": {"domain": [-0.85, 223.98], "nice": false, "zero": false}, "axis": null},
            "y": {"datum": -10.6, "type": "quantitative", "scale": {"domain": [-10.6, 112.6], "nice": false, "zero": false}, "axis": null},
            "y2": {"datum": -45}
          }
        }
      ]
    }
  ]
}
